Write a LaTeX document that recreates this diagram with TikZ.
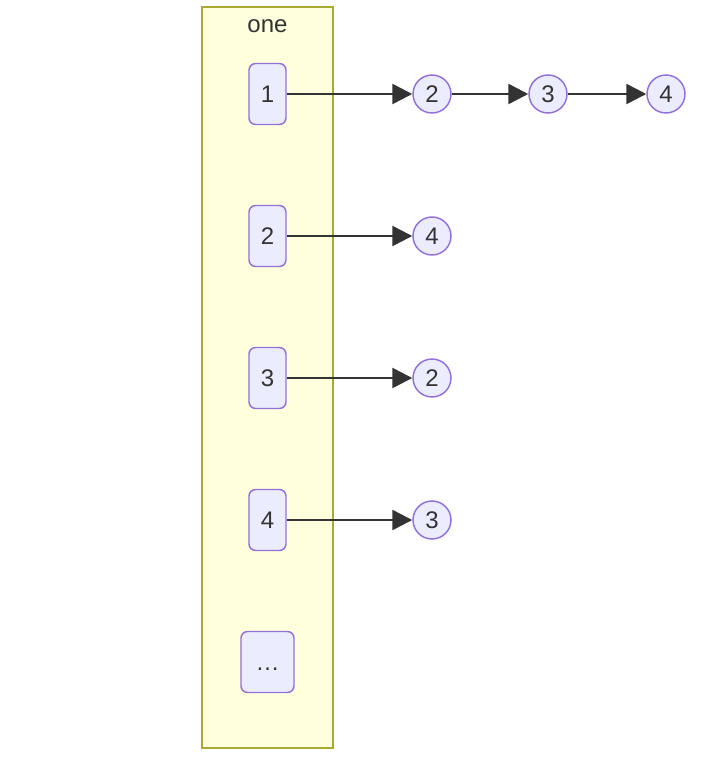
\documentclass[tikz,border=0pt]{standalone}
\usepackage{fontspec}
\setmainfont{Liberation Sans}
\usetikzlibrary{arrows.meta}
\definecolor{clusterfill}{HTML}{FFFFDE}
\definecolor{clusterline}{HTML}{AAAA33}
\definecolor{nodefill}{HTML}{ECECFF}
\definecolor{nodeline}{HTML}{9370DB}
\definecolor{ink}{HTML}{333333}
\begin{document}
\begin{tikzpicture}[x=0.75pt,y=-0.75pt]
        \tikzstyle{slot}=[rectangle,rounded corners=5pt,draw=nodeline,fill=nodefill,line width=1.1pt,minimum width=27.75pt,minimum height=45.75pt,inner sep=0pt,text height=12.9pt,text depth=0pt,text=ink,font=\fontsize{18}{21}\selectfont]
        \tikzstyle{item}=[circle,draw=nodeline,fill=nodefill,line width=1.1pt,minimum size=28.5pt,inner sep=0pt,text=ink,font=\fontsize{18}{21}\selectfont]
        \tikzstyle{link}=[draw=ink,fill=ink,line width=1.9pt,-{Triangle[length=15pt,width=15pt]}]
        \useasboundingbox (0,0) rectangle (715,764);
       \begin{scope}
         \node [draw=clusterline,fill=clusterfill,line width=1.1pt,minimum width=98.25pt,minimum height=555.75pt,inner sep=0pt] (one) at (267.5,377.5) {};
         \node [text=ink,font=\fontsize{18}{21}\selectfont] (title) at (267.5,26) {one};

         \node [slot] (k1) at (267.5,94) {1};
         \node [slot] (k2) at (267.5,236) {2};
         \node [slot] (k3) at (267.5,378) {3};
         \node [slot] (k4) at (267.5,520) {4};
         \node [slot,minimum width=39.75pt] (k5) at (267.5,662) {\ldots};

         \node [item] (a2) at (432,94) {2};
         \node [item] (a3) at (548,94) {3};
         \node [item] (a4) at (666,94) {4};
         \node [item] (b4) at (432,236) {4};
         \node [item] (c2) at (432,378) {2};
         \node [item] (d3) at (432,520) {3};

         \draw[link] (k1) -- (a2);
         \draw[link] (a2) -- (a3);
         \draw[link] (a3) -- (a4);
         \draw[link] (k2) -- (b4);
         \draw[link] (k3) -- (c2);
         \draw[link] (k4) -- (d3);
        \end{scope}
      \end{tikzpicture}
\end{document}
